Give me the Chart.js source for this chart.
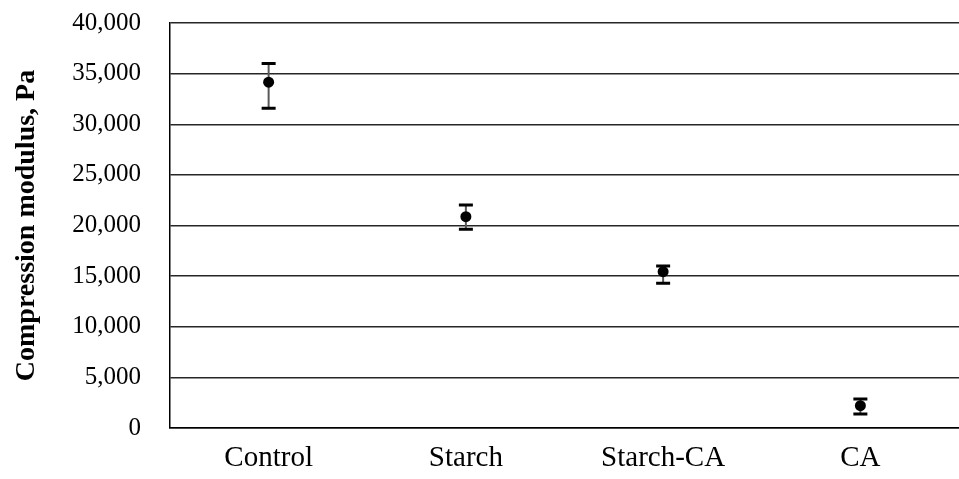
<!DOCTYPE html>
<html>
<head>
<meta charset="utf-8">
<script src="https://cdn.jsdelivr.net/npm/chart.js@4"></script>
<style>
  html, body { margin: 0; padding: 0; background: #fff; overflow: hidden; }
  #wrap { width: 959px; height: 479px; }
  canvas { display: block; }
</style>
</head>
<body>
<div id="wrap"><canvas id="c" width="959" height="479"></canvas></div>
<script>
const categories = ['Control', 'Starch', 'Starch-CA', 'CA'];
const modulusMean = [34150, 20870, 15440, 2200];
const errorUpper = [36000, 22020, 16000, 2860];
const errorLower = [31570, 19620, 14290, 1380];
const yTicks = [0, 5000, 10000, 15000, 20000, 25000, 30000, 35000, 40000];

const FONT = '"Liberation Serif", "Times New Roman", serif';

// Line controller that does not reserve extra edge space for point markers
class FlushLineController extends Chart.LineController {
  getMaxOverflow() { return 0; }
}
FlushLineController.id = 'flushLine';
FlushLineController.defaults = Object.assign({}, Chart.LineController.defaults);
FlushLineController.overrides = Chart.LineController.overrides;
Chart.register(FlushLineController);

const errorBarPlugin = {
  id: 'errorBars',
  beforeDatasetsDraw(chart) {
    const ctx = chart.ctx;
    const xs = chart.scales.x, ys = chart.scales.y;
    ctx.save();
    categories.forEach((c, i) => {
      const x = xs.getPixelForValue(i);
      const yTop = ys.getPixelForValue(errorUpper[i]);
      const yBot = ys.getPixelForValue(errorLower[i]);
      ctx.strokeStyle = '#595959';
      ctx.lineWidth = 2;
      ctx.beginPath();
      ctx.moveTo(x, yTop);
      ctx.lineTo(x, yBot);
      ctx.stroke();
      ctx.strokeStyle = '#000';
      ctx.lineWidth = 3;
      ctx.beginPath();
      ctx.moveTo(x - 7, yTop);
      ctx.lineTo(x + 7, yTop);
      ctx.moveTo(x - 7, yBot);
      ctx.lineTo(x + 7, yBot);
      ctx.stroke();
    });
    ctx.restore();
  }
};

new Chart(document.getElementById('c'), {
  type: 'flushLine',
  data: {
    labels: categories,
    datasets: [{
      data: modulusMean,
      showLine: false,
      pointRadius: 5.5,
      pointHoverRadius: 5.5,
      pointBackgroundColor: '#000',
      pointBorderColor: '#000',
      pointBorderWidth: 0
    }]
  },
  options: {
    responsive: false,
    animation: false,
    devicePixelRatio: 1,
    layout: { padding: { top: 23, right: 0, left: 0, bottom: 0 } },
    plugins: { legend: { display: false }, tooltip: { enabled: false } },
    scales: {
      x: {
        type: 'category',
        offset: true,
        grid: { display: false, drawTicks: false },
        border: { display: true, color: '#000', width: 1.5 },
        ticks: { color: '#000', font: { family: FONT, size: 29 }, padding: 13, maxRotation: 0 },
        afterFit(scale) { scale.height = 51; scale.paddingLeft = 0; scale.paddingRight = 0; }
      },
      y: {
        type: 'linear',
        min: 0,
        max: 40000,
        afterBuildTicks(scale) { scale.ticks = yTicks.map(v => ({ value: v })); },
        grid: { color: '#262626', lineWidth: 1.4, drawTicks: false },
        border: { display: true, color: '#000', width: 1.5 },
        ticks: {
          color: '#000',
          font: { family: FONT, size: 25 },
          padding: 29,
          callback: v => v.toLocaleString('en-US')
        },
        title: {
          display: true,
          text: 'Compression modulus, Pa',
          color: '#000',
          font: { family: FONT, size: 28, weight: 'bold' },
          padding: { top: 10, bottom: 0 }
        },
        afterFit(scale) { scale.width = 170; scale.paddingTop = 0; scale.paddingBottom = 0; }
      }
    }
  },
  plugins: [errorBarPlugin]
});
</script>
</body>
</html>
